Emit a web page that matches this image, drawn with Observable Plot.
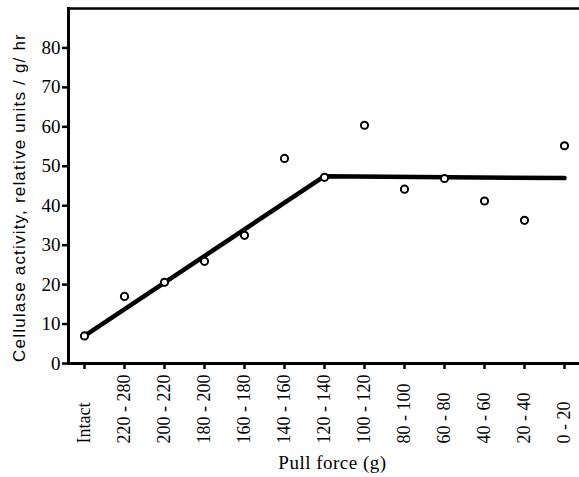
<!DOCTYPE html>
<html>
<head>
<meta charset="utf-8">
<script src="https://cdn.jsdelivr.net/npm/d3@7"></script>
<script src="https://cdn.jsdelivr.net/npm/@observablehq/plot@0.6"></script>
<style>
  html, body { margin: 0; padding: 0; background: #fff; }
</style>
</head>
<body>
<div id="chart"></div>
<script>
const categories = ["Intact", "220 - 280", "200 - 220", "180 - 200", "160 - 180", "140 - 160", "120 - 140", "100 - 120", "80 - 100", "60 - 80", "40 - 60", "20 - 40", "0 - 20"];
const activity = [7, 17, 20.6, 25.9, 32.5, 52, 47.2, 60.4, 44.2, 46.9, 41.2, 36.3, 55.2];
const fitCategories = ["Intact", "120 - 140", "0 - 20"];
const fitValues = [7, 47.5, 47];
const yTicks = [0, 10, 20, 30, 40, 50, 60, 70, 80];
const yLabel = "Cellulase activity, relative units / g/ hr";
const xLabel = "Pull force (g)";

const points = categories.map((c, i) => ({c, v: activity[i]}));
const fit = fitCategories.map((c, i) => ({c, v: fitValues[i]}));

const chart = Plot.plot({
  width: 579,
  height: 477,
  marginTop: 8,
  marginBottom: 114,
  marginLeft: 68,
  marginRight: 0,
  style: {fontFamily: "'Liberation Serif', 'Times New Roman', serif", fontSize: "19px", color: "#000", background: "#fff"},
  x: {type: "point", domain: categories, padding: 0.36, axis: null},
  y: {domain: [0, 90], axis: null},
  marks: [
    Plot.frame({anchor: "left", strokeWidth: 3, stroke: "#000"}),
    Plot.frame({anchor: "top", strokeWidth: 2.5, stroke: "#000"}),
    Plot.ruleY([0], {strokeWidth: 2.8, stroke: "#000"}),
    Plot.axisY({ticks: yTicks, tickSize: 6, tickPadding: 2, strokeWidth: 2.5, fontSize: 19, label: null}),
    Plot.axisX({tickSize: 6, strokeWidth: 2.5, tickFormat: () => "", label: null}),
    Plot.text(categories, {x: d => d, frameAnchor: "bottom", rotate: -90, textAnchor: "start", lineAnchor: "middle", dy: 80, fontSize: 18}),
    Plot.line(fit, {x: "c", y: "v", strokeWidth: 4.5, stroke: "#000"}),
    Plot.dot(points, {x: "c", y: "v", r: 3.6, stroke: "#000", strokeWidth: 2, fill: "#fff"}),
    Plot.text([yLabel], {frameAnchor: "left", rotate: -90, textAnchor: "middle", lineAnchor: "middle", dx: -48.5, dy: 11.5, fontFamily: "'Liberation Sans', Arial, sans-serif", fontSize: 17}),
    Plot.text([xLabel], {frameAnchor: "bottom", textAnchor: "middle", lineAnchor: "middle", dx: 8.5, dy: 99, fontSize: 19})
  ]
});
document.getElementById("chart").appendChild(chart);
chart.querySelectorAll("text").forEach(t => {
  if (t.textContent === yLabel) t.style.letterSpacing = "1.2px";
  if (t.textContent === xLabel) t.style.letterSpacing = "0.5px";
});
</script>
</body>
</html>
